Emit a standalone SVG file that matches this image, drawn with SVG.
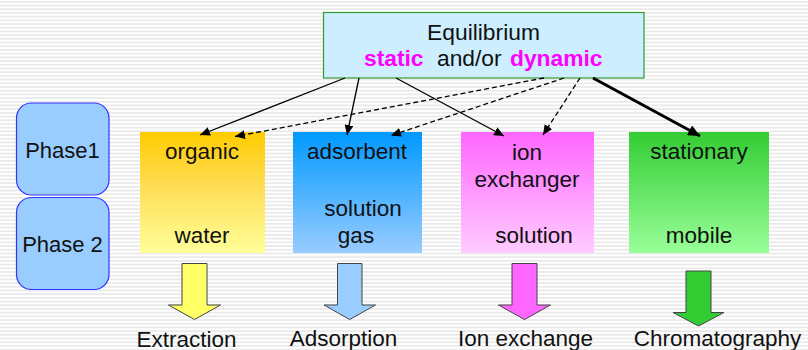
<svg xmlns="http://www.w3.org/2000/svg" width="808" height="350" viewBox="0 0 808 350">
  <defs>
    <pattern id="stripes" patternUnits="userSpaceOnUse" width="808" height="3.7">
      <rect width="808" height="3.7" fill="#ffffff"/>
      <rect y="1.2" width="808" height="1.3" fill="#e2e2e2"/>
    </pattern>
    <linearGradient id="gOrganic" x1="0" y1="0" x2="0" y2="1">
      <stop offset="0" stop-color="#ffcc00"/>
      <stop offset="0.45" stop-color="#ffdd55"/>
      <stop offset="1" stop-color="#ffff99"/>
    </linearGradient>
    <linearGradient id="gAdsorbent" x1="0" y1="0" x2="0" y2="1">
      <stop offset="0" stop-color="#0099ff"/>
      <stop offset="1" stop-color="#99ccff"/>
    </linearGradient>
    <linearGradient id="gIon" x1="0" y1="0" x2="0" y2="1">
      <stop offset="0" stop-color="#ff66ff"/>
      <stop offset="1" stop-color="#ffccff"/>
    </linearGradient>
    <linearGradient id="gStationary" x1="0" y1="0" x2="0" y2="1">
      <stop offset="0" stop-color="#33cc33"/>
      <stop offset="1" stop-color="#99ff99"/>
    </linearGradient>
    <marker id="tip" markerUnits="userSpaceOnUse" markerWidth="11" markerHeight="9" refX="10" refY="4.5" orient="auto">
      <path d="M0,0 L10,4.5 L0,9 Z" fill="#000"/>
    </marker>
    <marker id="tipBig" markerUnits="userSpaceOnUse" markerWidth="13" markerHeight="11" refX="12" refY="5.5" orient="auto">
      <path d="M0,0 L12,5.5 L0,11 Z" fill="#000"/>
    </marker>
  </defs>
  <style>
    text { font-family: "Liberation Sans", Arial, sans-serif; font-size: 22.5px; fill: #111; }
    .mid { text-anchor: middle; }
    .hi { font-weight: bold; fill: #ff00ff; }
    .phase rect { fill: #99ccff; stroke: #3333ff; stroke-width: 1.2; }
    .solid { fill: none; stroke: #000; stroke-width: 1.3; marker-end: url(#tip); }
    .dash { fill: none; stroke: #000; stroke-width: 1.3; stroke-dasharray: 5 3; marker-end: url(#tip); }
    .thick { fill: none; stroke: #000; stroke-width: 3; marker-end: url(#tipBig); }
    .down { stroke: #444; stroke-width: 1; }
  </style>

  <rect width="808" height="350" fill="url(#stripes)"/>

  <g id="equilibrium">
    <rect x="323.5" y="12.5" width="320.5" height="65.5" fill="#cceeff" stroke="#339933" stroke-width="1.2"/>
    <text class="mid" x="483.5" y="40" style="font-size:22.8px">Equilibrium</text>
    <text y="66" style="font-size:22.8px"><tspan class="hi" x="364">static</tspan><tspan x="437">and/or</tspan><tspan class="hi" x="510">dynamic</tspan></text>
  </g>

  <g id="phase1" class="phase">
    <rect x="16.5" y="103" width="92.5" height="92" rx="15"/>
    <text class="mid" x="62.5" y="158" style="font-size:22px">Phase1</text>
  </g>
  <g id="phase2" class="phase">
    <rect x="16.5" y="197.5" width="92.5" height="92" rx="15"/>
    <text class="mid" x="62.5" y="252" style="font-size:22px">Phase 2</text>
  </g>

  <g id="extraction-phases">
    <rect x="140" y="132" width="125" height="121" fill="url(#gOrganic)"/>
    <text class="mid" x="202" y="159">organic</text>
    <text class="mid" x="202" y="243">water</text>
  </g>
  <g id="adsorption-phases">
    <rect x="293" y="132" width="129" height="121" fill="url(#gAdsorbent)"/>
    <text class="mid" x="357" y="159">adsorbent</text>
    <text class="mid" x="363" y="216">solution</text>
    <text class="mid" x="356" y="243">gas</text>
  </g>
  <g id="ion-exchange-phases">
    <rect x="461" y="132" width="133" height="121" fill="url(#gIon)"/>
    <text class="mid" x="527" y="160">ion</text>
    <text class="mid" x="527" y="187">exchanger</text>
    <text class="mid" x="534" y="243">solution</text>
  </g>
  <g id="chromatography-phases">
    <rect x="629" y="132" width="140" height="121" fill="url(#gStationary)"/>
    <text class="mid" x="699" y="159">stationary</text>
    <text class="mid" x="699" y="243">mobile</text>
  </g>

  <g id="connectors">
    <path class="solid" d="M345,78 L200,135"/>
    <path class="solid" d="M359,78 L347,135"/>
    <path class="solid" d="M396,78 L504,136"/>
    <path class="dash" d="M544,78 L235,136.5"/>
    <path class="dash" d="M564,78 L391,135.5"/>
    <path class="dash" d="M580,78 L543,135"/>
    <path class="thick" d="M593,78 L700,136"/>
  </g>

  <g id="extraction">
    <path class="down" d="M182,263.5 H207 V305 H220.5 L194.5,319.5 L168.5,305 H182 Z" fill="#ffff66"/>
    <text class="mid" x="186.5" y="346.5">Extraction</text>
  </g>
  <g id="adsorption">
    <path class="down" d="M337.5,263.5 H362 V305 H375.5 L349.7,319.5 L324,305 H337.5 Z" fill="#99ccff"/>
    <text class="mid" x="343.5" y="345.5">Adsorption</text>
  </g>
  <g id="ion-exchange">
    <path class="down" d="M512,263.5 H537 V305 H550.5 L524.5,319.5 L498.5,305 H512 Z" fill="#ff66ff"/>
    <text class="mid" x="525.5" y="345.5">Ion exchange</text>
  </g>
  <g id="chromatography">
    <path class="down" d="M686,271 H711 V312.5 H724 L698.5,326 L673,312.5 H686 Z" fill="#33cc33"/>
    <text class="mid" x="717.5" y="345.5">Chromatography</text>
  </g>
</svg>
